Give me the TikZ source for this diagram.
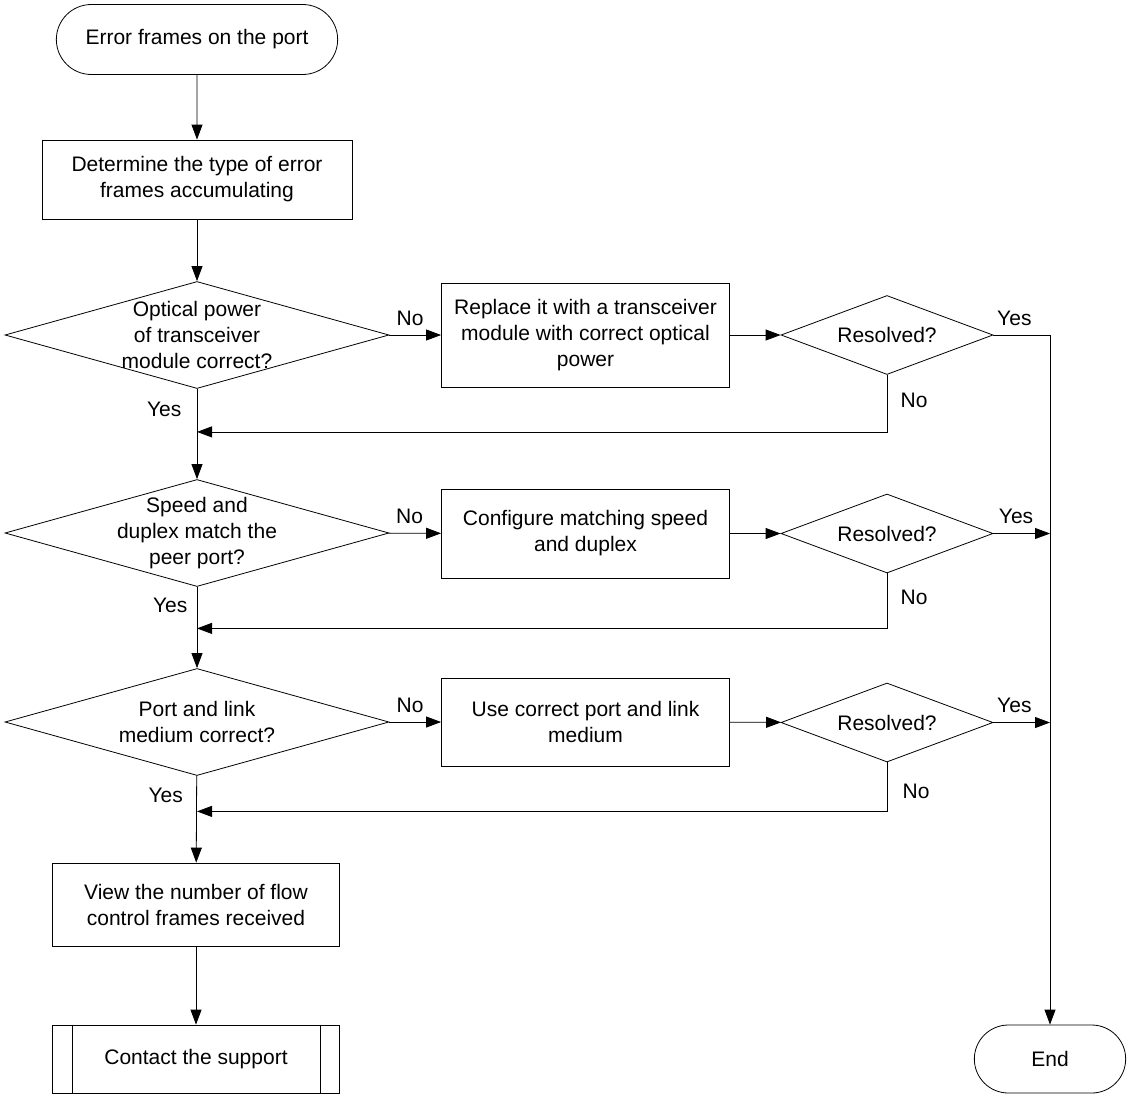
\documentclass[tikz,border=0pt]{standalone}
\usepackage{fontspec}
\setmainfont{Liberation Sans}
\usetikzlibrary{shapes, arrows.meta, positioning}

\begin{document}
\begin{tikzpicture}[x=1pt, y=-1pt, line width=0.8pt, >={Triangle[length=15pt, width=11pt]},
  every node/.style={font=\fontsize{21}{26}\selectfont},
  terminal/.style={draw, rounded rectangle, minimum height=70pt},
  process/.style={draw, rectangle, align=center, inner sep=0pt},
  decision/.style={draw, diamond, inner sep=0pt, minimum width=384pt, minimum height=107pt},
  resolved/.style={draw, diamond, inner sep=0pt, minimum width=212pt, minimum height=79pt},
  txt/.style={align=center}]
\def\xmain{197}
\def\xbox{585.5}
\def\xres{887}
\def\xend{1050}
\useasboundingbox (0,0) rectangle (1134,1100);

\node[terminal, minimum width=288pt] (start) at (\xmain,39.5) {Error frames on the port};
\node[process, minimum width=310pt, minimum height=79pt] (det) at (\xmain,179.5) {Determine the type of error\\frames accumulating};

\node[decision] (d1) at (\xmain,335) {};
\node[txt] (d1t) at (d1) {Optical power\\of transceiver\\module correct?};
\node[decision] (d2) at (\xmain,533) {};
\node[txt] (d2t) at (d2) {Speed and\\duplex match the\\peer port?};
\node[decision] (d3) at (\xmain,722) {};
\node[txt] (d3t) at (d3) {Port and link\\medium correct?};

\node[process, minimum width=288pt, minimum height=104pt] (r1) at (\xbox,335) {Replace it with a transceiver\\module with correct optical\\power};
\node[process, minimum width=288pt, minimum height=89pt] (r2) at (\xbox,533.5) {Configure matching speed\\and duplex};
\node[process, minimum width=288pt, minimum height=88pt] (r3) at (\xbox,722) {Use correct port and link\\medium};

\foreach \n/\y in {1/335, 2/533.5, 3/722.5} {
\node[resolved] (q\n) at (\xres,\y) {};
\node[txt] (q\n t) at (q\n) {Resolved?};
}

\node[process, minimum width=287pt, minimum height=83pt] (view) at (196,904.5) {View the number of flow\\control frames received};
\node[process, minimum width=287pt, minimum height=68pt] (sup) at (196,1059) {Contact the support};
\draw ([xshift=20pt]sup.north west) -- ([xshift=20pt]sup.south west);
\draw ([xshift=-20pt]sup.north east) -- ([xshift=-20pt]sup.south east);
\node[terminal, minimum width=158pt, minimum height=68pt] (end) at (\xend,1059) {End};

% main column
\draw[->] (start) -- (det);
\draw[->] (det) -- (d1);
\draw[->] (d1) -- node[pos=.23, left=12pt] (y1) {Yes} (d2);
\draw[->] (d2) -- node[pos=.23, left=6pt] (y2) {Yes} (d3);
\draw[->] (d3) -- node[pos=.23, left=10pt] (y3) {Yes} (view);
\draw[->] (view) -- (sup);

% no branches
\foreach \n in {1,2,3} {
\draw[->] (d\n) -- node[pos=.4, above=6pt] (n\n) {No} (r\n);
\draw[->] (r\n) -- (q\n);
}

% resolved
\draw[->] (q1.east) -- node[pos=.37, above=6pt] (yr1) {Yes} (q1.east -| end.north) -- (end.north);
\draw[->] (q2.east) -- node[pos=.4, above=6pt] (yr2) {Yes} (q2.east -| end.north);
\draw[->] (q3.east) -- node[pos=.37, above=6pt] (yr3) {Yes} (q3.east -| end.north);

\draw[->] (q1.south) -- node[pos=.44, right=10pt] (nr1) {No} ++(0,57) coordinate (j1) -- (j1 -| d1.south);
\draw[->] (q2.south) -- node[pos=.44, right=10pt] (nr2) {No} ++(0,55) coordinate (j2) -- (j2 -| d2.south);
\draw[->] (q3.south) -- node[pos=.6, right=12pt] (nr3) {No} ++(0,49) coordinate (j3) -- (j3 -| d3.south);
\end{tikzpicture}
\end{document}
